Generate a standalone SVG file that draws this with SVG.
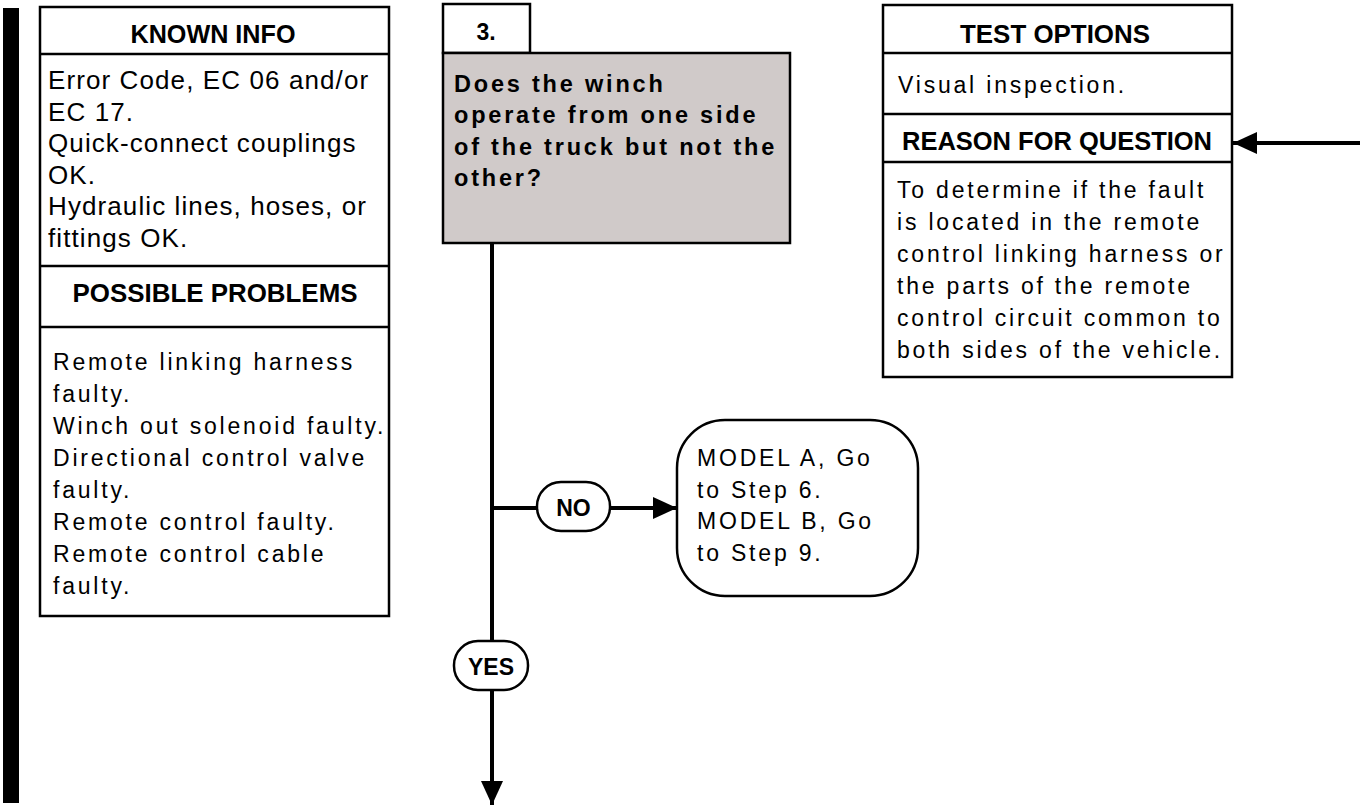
<svg xmlns="http://www.w3.org/2000/svg" width="1360" height="810" viewBox="0 0 1360 810">
<style>
.box{fill:#fff;stroke:#000;stroke-width:2.5}
.div{stroke:#000;stroke-width:2.5}
.hdr{font-family:"Liberation Sans",Arial,sans-serif;font-weight:bold;font-size:25px;text-anchor:middle;fill:#000}
.body{font-family:"Liberation Sans",Arial,sans-serif;font-size:23px;letter-spacing:2.8px;fill:#000}
.bodyk{font-family:"Liberation Sans",Arial,sans-serif;font-size:26px;letter-spacing:1.1px;fill:#000}
.q{font-family:"Liberation Sans",Arial,sans-serif;font-weight:bold;font-size:23.5px;letter-spacing:2.8px;fill:#000}
.lbl{font-family:"Liberation Sans",Arial,sans-serif;font-weight:bold;font-size:23px;text-anchor:middle;fill:#000}
.conn{stroke:#000;stroke-width:4;fill:none}
</style>
<defs>
<marker id="ah" markerUnits="userSpaceOnUse" markerWidth="26" markerHeight="22" refX="24" refY="11" orient="auto">
<path d="M0,0 L24,11 L0,22 Z" fill="#000"/>
</marker>
</defs>
<rect x="3" y="8" width="16" height="795" fill="#000"/>
<g id="known-info">
<rect class="box" x="40" y="7" width="349" height="609"/>
<line class="div" x1="40" y1="54" x2="389" y2="54"/>
<line class="div" x1="40" y1="266" x2="389" y2="266"/>
<line class="div" x1="40" y1="327" x2="389" y2="327"/>
<text class="hdr" x="213" y="43" textLength="165" lengthAdjust="spacingAndGlyphs">KNOWN INFO</text>
<text class="bodyk" x="48" y="89">Error Code, EC 06 and/or</text>
<text class="bodyk" x="48" y="120.5">EC 17.</text>
<text class="bodyk" x="48" y="152">Quick-connect couplings</text>
<text class="bodyk" x="48" y="183.5">OK.</text>
<text class="bodyk" x="48" y="215">Hydraulic lines, hoses, or</text>
<text class="bodyk" x="48" y="246.5">fittings OK.</text>
<text class="hdr" x="215" y="302" textLength="285" lengthAdjust="spacingAndGlyphs">POSSIBLE PROBLEMS</text>
<text class="body" x="53" y="370">Remote linking harness</text>
<text class="body" x="53" y="402">faulty.</text>
<text class="body" x="53" y="434">Winch out solenoid faulty.</text>
<text class="body" x="53" y="466">Directional control valve</text>
<text class="body" x="53" y="498">faulty.</text>
<text class="body" x="53" y="530">Remote control faulty.</text>
<text class="body" x="53" y="562">Remote control cable</text>
<text class="body" x="53" y="594">faulty.</text>
</g>
<g id="step3">
<rect class="box" x="443" y="4" width="87" height="49"/>
<text class="lbl" x="486" y="40" font-size="24">3.</text>
<rect x="443" y="53" width="347" height="190" fill="#d0cac9" stroke="#000" stroke-width="2.5"/>
<text class="q" x="454" y="91.5">Does the winch</text>
<text class="q" x="454" y="123">operate from one side</text>
<text class="q" x="454" y="154.5">of the truck but not the</text>
<text class="q" x="454" y="186">other?</text>
</g>
<g id="test-options">
<rect class="box" x="883" y="5" width="349" height="372"/>
<line class="div" x1="883" y1="53" x2="1232" y2="53"/>
<line class="div" x1="883" y1="114" x2="1232" y2="114"/>
<line class="div" x1="883" y1="162" x2="1232" y2="162"/>
<text class="hdr" x="1055" y="43" textLength="190" lengthAdjust="spacingAndGlyphs">TEST OPTIONS</text>
<text class="body" x="898" y="93">Visual inspection.</text>
<text class="hdr" x="1057" y="150" textLength="310" lengthAdjust="spacingAndGlyphs">REASON FOR QUESTION</text>
<text class="body" x="897" y="198">To determine if the fault</text>
<text class="body" x="897" y="230">is located in the remote</text>
<text class="body" x="897" y="262">control linking harness or</text>
<text class="body" x="897" y="294">the parts of the remote</text>
<text class="body" x="897" y="326">control circuit common to</text>
<text class="body" x="897" y="358">both sides of the vehicle.</text>
</g>
<g id="model-box">
<rect class="box" x="677" y="420" width="241" height="176" rx="48" ry="48"/>
<text class="body" x="697" y="466" font-size="25" letter-spacing="2.2">MODEL A, Go</text>
<text class="body" x="697" y="498" font-size="25" letter-spacing="2.2">to Step 6.</text>
<text class="body" x="697" y="529" font-size="25" letter-spacing="2.2">MODEL B, Go</text>
<text class="body" x="697" y="561" font-size="25" letter-spacing="2.2">to Step 9.</text>
</g>
<g id="connectors">
<line class="conn" x1="492" y1="243" x2="492" y2="641"/>
<line class="conn" x1="492" y1="690" x2="492" y2="805" marker-end="url(#ah)"/>
<line class="conn" x1="492" y1="508" x2="537" y2="508"/>
<line class="conn" x1="610" y1="508" x2="677" y2="508" marker-end="url(#ah)"/>
<line class="conn" x1="1360" y1="143" x2="1233" y2="143" marker-end="url(#ah)"/>
</g>
<g id="no-label">
<rect class="box" x="537" y="482" width="73" height="49" rx="24" ry="24"/>
<text class="lbl" x="573.5" y="516">NO</text>
</g>
<g id="yes-label">
<rect class="box" x="454" y="641" width="74" height="49" rx="24" ry="24"/>
<text class="lbl" x="491" y="675" font-size="24">YES</text>
</g>
</svg>
